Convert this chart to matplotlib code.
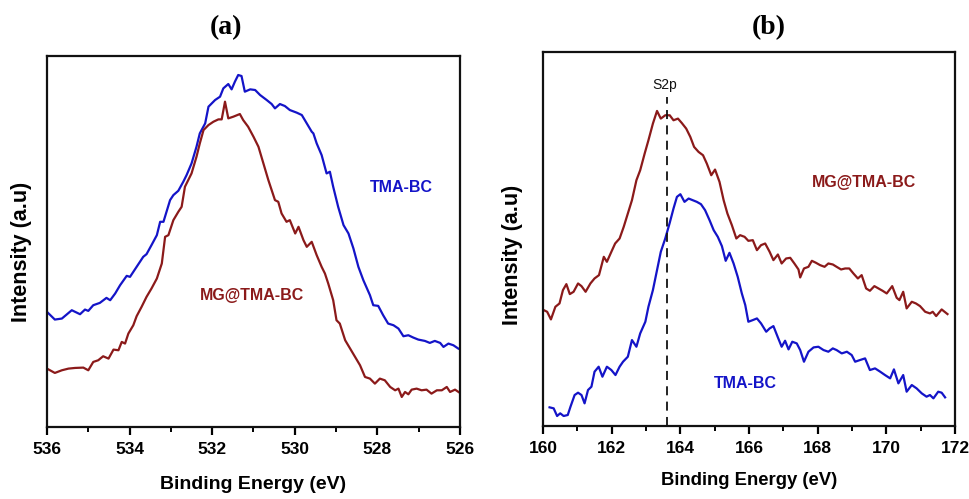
import matplotlib
matplotlib.use("Agg")
import matplotlib.pyplot as plt
from matplotlib.ticker import MultipleLocator

# ---------------- Panel (a): O1s region ----------------
a_tma_x = [536.00, 535.81, 535.64, 535.40, 535.20, 535.08, 535.00, 534.88, 534.72, 534.56,
           534.47, 534.35, 534.23, 534.07, 533.99, 533.83, 533.67, 533.59, 533.47, 533.34,
           533.26, 533.18, 533.02, 532.94, 532.82, 532.70, 532.62, 532.50, 532.38, 532.30,
           532.17, 532.09, 531.93, 531.81, 531.73, 531.61, 531.53, 531.45, 531.37, 531.29,
           531.21, 531.08, 530.96, 530.84, 530.68, 530.56, 530.48, 530.36, 530.24, 530.12,
           529.95, 529.83, 529.71, 529.59, 529.55, 529.47, 529.35, 529.23, 529.15, 529.07,
           528.95, 528.82, 528.70, 528.58, 528.46, 528.34, 528.18, 528.10, 527.98, 527.86,
           527.74, 527.61, 527.49, 527.37, 527.25, 527.13, 527.01, 526.85, 526.73, 526.61,
           526.48, 526.40, 526.28, 526.16, 526.04]
a_tma_y = [34.5, 32.2, 32.5, 35.0, 33.8, 35.2, 34.8, 36.5, 37.2, 38.7,
           38.0, 40.0, 42.5, 45.3, 45.0, 48.0, 51.0, 51.8, 54.5, 57.5,
           61.5, 61.5, 68.0, 69.5, 70.8, 73.5, 75.5, 79.0, 84.0, 88.0,
           91.0, 96.0, 98.0, 99.0, 101.5, 102.8, 101.2, 103.5, 105.5, 105.2,
           100.5, 101.2, 101.0, 99.5, 98.0, 96.8, 95.5, 96.8, 96.2, 95.0,
           94.2, 93.5, 91.0, 88.5, 88.0, 85.0, 81.5, 76.0, 76.5, 72.0,
           66.0, 60.5, 58.0, 53.5, 48.0, 44.0, 39.5, 36.5, 36.3, 33.5,
           31.0, 30.5, 29.5, 27.2, 27.5, 26.8, 26.2, 25.8, 25.2, 25.8,
           25.2, 24.0, 25.0, 24.5, 23.5]

a_mg_x = [536.00, 535.81, 535.64, 535.48, 535.32, 535.12, 535.00, 534.88, 534.76, 534.64,
          534.51, 534.39, 534.27, 534.19, 534.11, 534.03, 533.91, 533.83, 533.71, 533.59,
          533.47, 533.34, 533.22, 533.14, 533.06, 532.94, 532.82, 532.74, 532.66, 532.58,
          532.50, 532.38, 532.30, 532.21, 532.09, 531.97, 531.85, 531.77, 531.69, 531.61,
          531.49, 531.33, 531.25, 531.13, 531.00, 530.88, 530.76, 530.64, 530.56, 530.48,
          530.40, 530.32, 530.20, 530.12, 529.99, 529.91, 529.79, 529.71, 529.59, 529.47,
          529.35, 529.27, 529.19, 529.07, 528.99, 528.91, 528.78, 528.66, 528.54, 528.42,
          528.30, 528.18, 528.06, 527.94, 527.82, 527.69, 527.57, 527.49, 527.41, 527.33,
          527.25, 527.17, 527.05, 526.93, 526.81, 526.69, 526.56, 526.44, 526.32, 526.24,
          526.12, 526.00]
a_mg_y = [17.5, 16.2, 17.0, 17.5, 17.7, 17.8, 17.0, 19.5, 20.0, 21.2,
          20.5, 23.2, 23.0, 25.5, 25.0, 28.0, 30.5, 33.2, 36.0, 39.0,
          41.5, 44.5, 49.0, 57.0, 57.5, 62.0, 64.5, 66.0, 72.0, 74.0,
          76.0, 81.0, 85.0, 89.0, 90.5, 91.5, 92.2, 92.2, 97.5, 92.5,
          93.0, 93.8, 92.0, 90.0, 87.0, 84.0, 79.0, 74.0, 71.0, 68.0,
          67.5, 64.0, 61.5, 62.0, 58.0, 60.0, 56.0, 54.0, 55.5, 51.5,
          48.0, 46.0, 43.0, 38.0, 32.0, 31.0, 26.0, 23.5, 21.0, 18.5,
          15.0, 14.5, 13.0, 14.5, 14.0, 12.0, 11.0, 11.5, 9.0, 10.5,
          9.8, 11.2, 11.5, 11.0, 11.2, 10.0, 11.0, 11.0, 12.0, 10.5,
          11.2, 10.2]

# ---------------- Panel (b): S2p region ----------------
b_mg_x = [160.02, 160.12, 160.23, 160.36, 160.48, 160.58, 160.68, 160.78, 160.89, 161.02,
          161.12, 161.24, 161.38, 161.50, 161.63, 161.77, 161.86, 161.99, 162.10, 162.23,
          162.35, 162.47, 162.59, 162.72, 162.83, 162.96, 163.07, 163.20, 163.32, 163.43,
          163.56, 163.69, 163.80, 163.93, 164.04, 164.17, 164.29, 164.40, 164.53, 164.66,
          164.77, 164.90, 165.01, 165.14, 165.26, 165.37, 165.50, 165.63, 165.74, 165.87,
          165.98, 166.11, 166.23, 166.35, 166.47, 166.60, 166.71, 166.84, 166.95, 167.08,
          167.20, 167.32, 167.44, 167.49, 167.60, 167.73, 167.83, 167.95, 168.07, 168.20,
          168.31, 168.44, 168.55, 168.68, 168.80, 168.92, 169.04, 169.17, 169.28, 169.41,
          169.52, 169.65, 169.77, 169.89, 170.01, 170.17, 170.30, 170.38, 170.49, 170.59,
          170.74, 170.86, 170.98, 171.13, 171.27, 171.35, 171.45, 171.61, 171.78]
b_mg_y = [34.8, 34.3, 32.0, 35.8, 36.8, 40.8, 42.6, 39.6, 40.3, 42.8,
          42.0, 40.3, 42.8, 44.3, 45.3, 50.8, 49.3, 52.3, 54.8, 56.3,
          59.8, 63.8, 67.8, 73.8, 76.8, 81.8, 85.8, 90.8, 94.6, 92.3,
          93.3, 93.3, 91.8, 92.3, 91.0, 89.3, 86.8, 83.8, 82.3, 81.3,
          78.8, 75.3, 77.0, 73.3, 67.8, 63.8, 60.3, 56.3, 57.3, 56.8,
          55.6, 55.8, 52.8, 54.3, 54.8, 52.3, 49.8, 51.5, 48.8, 50.3,
          50.5, 48.8, 47.0, 44.6, 47.3, 47.8, 49.6, 49.0, 48.3, 47.8,
          48.8, 48.5, 47.8, 47.0, 47.3, 47.3, 45.8, 44.3, 45.3, 41.3,
          40.6, 42.0, 41.3, 40.6, 39.8, 42.0, 38.5, 37.8, 40.3, 35.3,
          37.3, 36.8, 36.0, 34.3, 33.8, 34.3, 33.0, 35.0, 33.6]

b_tma_x = [160.19, 160.31, 160.41, 160.50, 160.60, 160.72, 160.80, 160.92, 161.02, 161.12,
           161.21, 161.31, 161.41, 161.50, 161.62, 161.73, 161.86, 161.99, 162.11, 162.23,
           162.33, 162.47, 162.59, 162.72, 162.83, 162.98, 163.07, 163.20, 163.32, 163.43,
           163.56, 163.69, 163.80, 163.90, 164.00, 164.12, 164.24, 164.36, 164.48, 164.60,
           164.72, 164.85, 164.97, 165.09, 165.21, 165.32, 165.43, 165.55, 165.67, 165.79,
           165.89, 165.98, 166.11, 166.23, 166.35, 166.50, 166.60, 166.71, 166.84, 166.95,
           167.05, 167.15, 167.26, 167.39, 167.49, 167.60, 167.73, 167.88, 168.02, 168.17,
           168.31, 168.44, 168.55, 168.70, 168.85, 168.99, 169.09, 169.23, 169.38, 169.52,
           169.67, 169.82, 169.96, 170.11, 170.22, 170.35, 170.49, 170.59, 170.74, 170.88,
           171.03, 171.17, 171.27, 171.37, 171.51, 171.61, 171.71]
b_tma_y = [5.6, 5.3, 3.0, 3.8, 3.0, 3.3, 5.8, 9.3, 10.0, 9.3,
           6.8, 10.8, 11.8, 16.3, 17.8, 14.8, 17.8, 16.8, 15.3, 17.8,
           19.3, 20.8, 25.8, 23.8, 27.8, 31.3, 35.8, 40.8, 46.8, 52.3,
           56.3, 61.0, 65.3, 68.8, 69.6, 67.3, 68.3, 67.8, 67.3, 66.6,
           64.8, 61.8, 58.8, 56.8, 54.0, 49.6, 52.0, 48.8, 44.8, 39.8,
           36.3, 31.3, 31.8, 32.3, 30.8, 28.3, 29.3, 30.0, 26.6, 23.8,
           25.6, 23.0, 25.3, 24.8, 22.8, 19.3, 22.3, 23.6, 23.8, 22.8,
           22.3, 23.3, 22.8, 21.8, 22.3, 21.3, 19.3, 19.8, 20.3, 16.8,
           17.3, 16.3, 15.3, 14.3, 17.0, 12.8, 15.3, 10.3, 12.3, 11.3,
           9.8, 8.8, 9.3, 8.3, 10.3, 10.0, 8.6]

s2p_position = 163.6
s2p_top = 98.8

BLUE = "#1414c8"
RED = "#8b1a1a"

fig = plt.figure(figsize=(9.69, 4.99), dpi=100)
ax1 = fig.add_axes([0.0485, 0.1443, 0.4262, 0.7435])
ax2 = fig.add_axes([0.5604, 0.1463, 0.4252, 0.7495])

SANS = ["Liberation Sans", "DejaVu Sans"]

def style(ax, xlim, major, minor, ylim):
    ax.set_xlim(*xlim)
    ax.set_ylim(*ylim)
    ax.xaxis.set_major_locator(MultipleLocator(major))
    ax.xaxis.set_minor_locator(MultipleLocator(minor))
    ax.set_yticks([])
    for s in ax.spines.values():
        s.set_linewidth(1.6)
        s.set_color("#111111")
    ax.tick_params(axis="x", which="major", direction="out", length=5.5, width=1.6, pad=5)
    ax.tick_params(axis="x", which="minor", direction="out", length=3.5, width=1.4)
    for lab in ax.get_xticklabels():
        lab.set_family(SANS)
        lab.set_fontweight("bold")
        lab.set_fontsize(12.5)

# Panel (a)
ax1.plot(a_tma_x, a_tma_y, color=BLUE, lw=1.6)
ax1.plot(a_mg_x, a_mg_y, color=RED, lw=1.6)
style(ax1, (536, 526), 2, 1, (0, 111.2))
ax1.text(527.43, 71.9, "TMA-BC", color=BLUE, fontsize=11.5, fontweight="bold",
         family=SANS, ha="center", va="center")
ax1.text(531.04, 39.3, "MG@TMA-BC", color=RED, fontsize=11.5, fontweight="bold",
         family=SANS, ha="center", va="center")
ax1.set_xlabel("Binding Energy (eV)", fontsize=14, fontweight="bold", family=SANS)
ax1.xaxis.set_label_coords(0.5, -0.133)
ax1.set_ylabel("Intensity (a.u)", fontsize=15.5, fontweight="bold", family=SANS)
ax1.yaxis.set_label_coords(-0.036, 0.472)

# Panel (b)
ax2.plot(b_mg_x, b_mg_y, color=RED, lw=1.6)
ax2.plot(b_tma_x, b_tma_y, color=BLUE, lw=1.6)
ax2.plot([s2p_position, s2p_position], [0, s2p_top], color="#111111", lw=1.3,
         linestyle=(0, (5, 3.5)))
style(ax2, (160, 172), 2, 1, (0, 112.3))
ax2.text(163.55, 102.4, "S2p", color="#111111", fontsize=10, family=SANS,
         ha="center", va="center")
ax2.text(169.35, 73.0, "MG@TMA-BC", color=RED, fontsize=11.5, fontweight="bold",
         family=SANS, ha="center", va="center")
ax2.text(165.88, 12.9, "TMA-BC", color=BLUE, fontsize=11.5, fontweight="bold",
         family=SANS, ha="center", va="center")
ax2.set_xlabel("Binding Energy (eV)", fontsize=13.3, fontweight="bold", family=SANS)
ax2.xaxis.set_label_coords(0.5, -0.122)
ax2.set_ylabel("Intensity (a.u)", fontsize=15.5, fontweight="bold", family=SANS)
ax2.yaxis.set_label_coords(-0.0485, 0.457)

fig.text(226 / 969, 1 - 28 / 499, "(a)", fontsize=20, fontweight="bold",
         family=["Liberation Serif", "DejaVu Serif"], ha="center", va="center")
fig.text(769 / 969, 1 - 28 / 499, "(b)", fontsize=20, fontweight="bold",
         family=["Liberation Serif", "DejaVu Serif"], ha="center", va="center")

fig.savefig("out.png", dpi=100)
